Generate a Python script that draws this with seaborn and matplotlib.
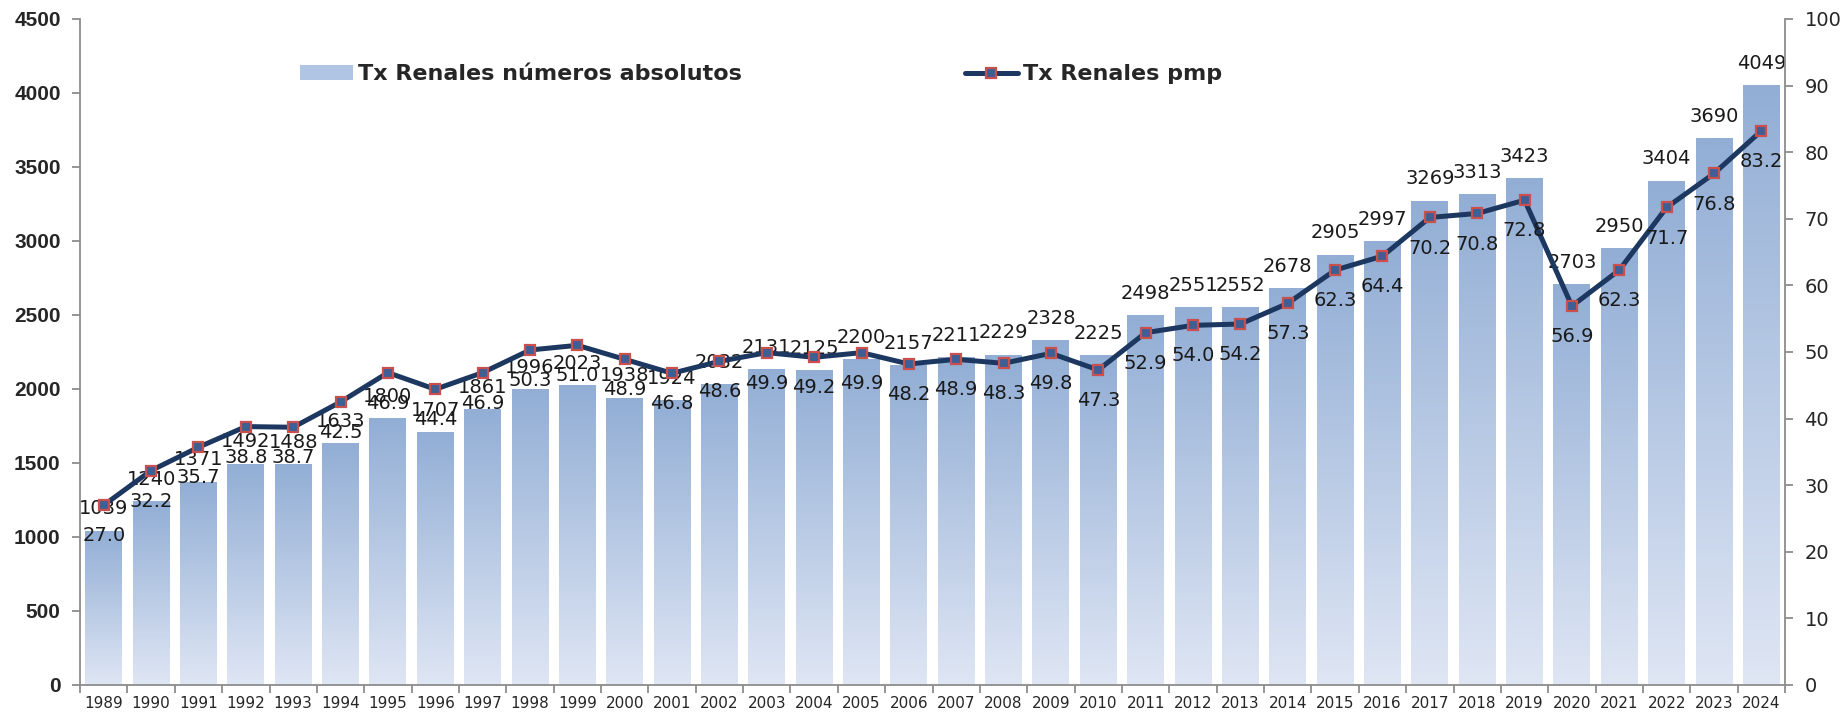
import numpy as np
import pandas as pd
import matplotlib
matplotlib.use("Agg")
import matplotlib.pyplot as plt
import seaborn as sns
from matplotlib.colors import LinearSegmentedColormap
from matplotlib.patches import Patch
from matplotlib.lines import Line2D

# data
years = [str(y) for y in range(1989, 2025)]
tx_abs = [1039, 1240, 1371, 1492, 1488, 1633, 1800, 1707, 1861, 1996,
          2023, 1938, 1924, 2032, 2131, 2125, 2200, 2157, 2211, 2229,
          2328, 2225, 2498, 2551, 2552, 2678, 2905, 2997, 3269, 3313,
          3423, 2703, 2950, 3404, 3690, 4049]
tx_pmp = [27.0, 32.2, 35.7, 38.8, 38.7, 42.5, 46.9, 44.4, 46.9, 50.3,
          51.0, 48.9, 46.8, 48.6, 49.9, 49.2, 49.9, 48.2, 48.9, 48.3,
          49.8, 47.3, 52.9, 54.0, 54.2, 57.3, 62.3, 64.4, 70.2, 70.8,
          72.8, 56.9, 62.3, 71.7, 76.8, 83.2]
left_ticks = list(range(0, 4501, 500))
right_ticks = list(range(0, 101, 10))

df = pd.DataFrame({"year": years, "abs": tx_abs, "pmp": tx_pmp})

sns.set_style("white")
plt.rcParams["font.family"] = ["DejaVu Sans"]

fig = plt.figure(figsize=(18.41, 7.19), dpi=100)
ax = fig.add_axes([0.0435, 0.0473, 0.9261, 0.9263])

grey = "#8c8c8c"
navy = "#1c3760"
top_col = "#92aed5"
bot_col = "#dfe6f4"
grad = LinearSegmentedColormap.from_list("g", [bot_col, top_col])

sns.barplot(data=df, x="year", y="abs", color=top_col, width=0.78, ax=ax)

# gradient fill for each bar
g = np.linspace(0, 1, 256).reshape(-1, 1)
for p in ax.patches:
    x0, w, h = p.get_x(), p.get_width(), p.get_height()
    ax.imshow(g, extent=(x0, x0 + w, 0, h), origin="lower", cmap=grad,
              aspect="auto", zorder=1)
    p.set_alpha(0)

ax.set_xlim(-0.5, len(years) - 0.5)
ax.set_ylim(0, 4500)
ax.set_yticks(left_ticks)
ax.set_xlabel("")
ax.set_ylabel("")

for i, v in enumerate(tx_abs):
    ax.annotate(str(v), (i, v), xytext=(0, 16), textcoords="offset points",
                ha="center", va="center", fontsize=14, color="#1a1a1a", zorder=3)

ax2 = ax.twinx()
sns.lineplot(x=np.arange(len(years)), y=tx_pmp, ax=ax2, color=navy,
             linewidth=3.6, marker="s", markersize=7,
             markerfacecolor="#3c5f96", markeredgecolor="#c9504d",
             markeredgewidth=1.6)
ax2.set_ylim(0, 100)
ax2.set_yticks(right_ticks)
ax2.set_xlim(-0.5, len(years) - 0.5)

for i, v in enumerate(tx_pmp):
    ax2.annotate(f"{v:.1f}", (i, v), xytext=(0, -22), textcoords="offset points",
                 ha="center", va="center", fontsize=14, color="#1a1a1a")

# axes styling
for a in (ax, ax2):
    a.spines["top"].set_visible(False)
    for s in ("left", "right", "bottom"):
        a.spines[s].set_color(grey)
        a.spines[s].set_linewidth(1.3)
ax.spines["right"].set_visible(False)
ax2.spines["left"].set_visible(False)
ax2.spines["bottom"].set_visible(False)

ax.tick_params(axis="y", direction="out", length=6, width=1.3, color=grey,
               pad=8, labelsize=15)
for t in ax.get_yticklabels():
    t.set_fontfamily(["Liberation Sans", "DejaVu Sans"])
    t.set_fontweight("bold")
ax2.tick_params(axis="y", direction="out", length=6, width=1.3, color=grey,
                pad=8, labelsize=14)

ax.set_xticks(np.arange(len(years)))
ax.set_xticklabels(years)
ax.set_xticks(np.arange(len(years) + 1) - 0.5, minor=True)
ax.tick_params(axis="x", which="major", length=0, pad=8, labelsize=11)
ax.tick_params(axis="x", which="minor", length=6, width=1.3, color=grey,
               direction="out", bottom=True)

# legend
handles = [Patch(facecolor="#b0c4e3", edgecolor="none"),
           Line2D([0], [0], color=navy, linewidth=3.6, marker="s", markersize=7,
                  markerfacecolor="#3c5f96", markeredgecolor="#c9504d",
                  markeredgewidth=1.6)]
ax2.legend(handles, ["Tx Renales números absolutos", "Tx Renales pmp"],
           ncol=2, frameon=False, loc="upper left",
           bbox_to_anchor=(0.117, 0.962), columnspacing=10,
           handlelength=2.4, handletextpad=0.25,
           prop={"family": "DejaVu Sans", "weight": "bold", "size": 16})

fig.savefig("out.png", dpi=100)
